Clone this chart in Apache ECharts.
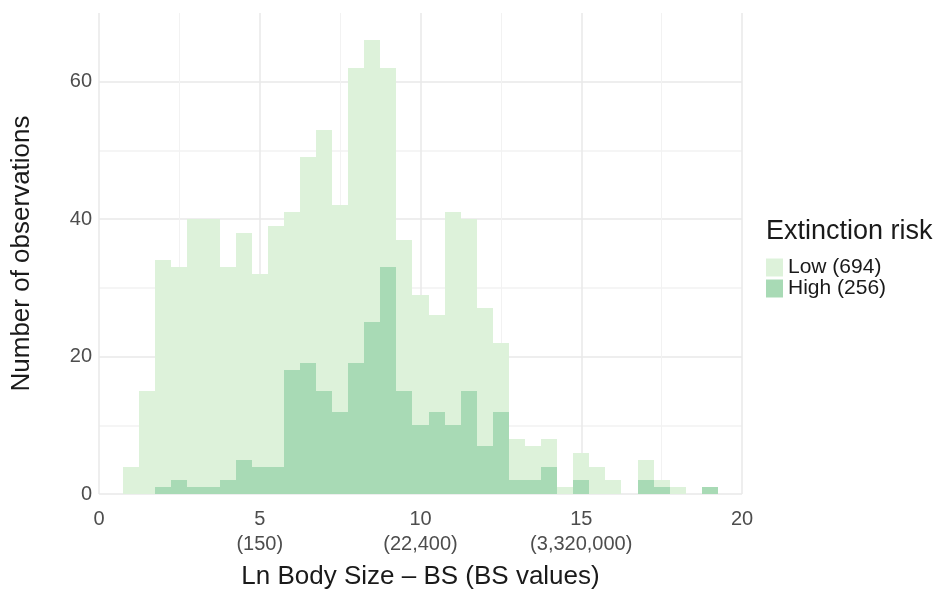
<!DOCTYPE html>
<html>
<head>
<meta charset="utf-8">
<title>Body size histogram by extinction risk</title>
<script src="https://cdn.jsdelivr.net/npm/echarts@6/dist/echarts.min.js"></script>
<style>
  html, body { margin: 0; padding: 0; background: #ffffff; }
  #chart { width: 942px; height: 602px; }
</style>
</head>
<body>
<div id="chart"></div>
<script>
// Histogram bins (ln body size), width 0.5, identified by their centres
const binWidth = 0.5;
const binCenters = [1.0, 1.5, 2.0, 2.5, 3.0, 3.5, 4.0, 4.5, 5.0, 5.5, 6.0, 6.5, 7.0, 7.5,
  8.0, 8.5, 9.0, 9.5, 10.0, 10.5, 11.0, 11.5, 12.0, 12.5, 13.0, 13.5, 14.0, 14.5,
  15.0, 15.5, 16.0, 16.5, 17.0, 17.5, 18.0, 18.5, 19.0];

// Counts per bin for each extinction-risk class (stacked: High below, Low on top)
const lowCounts = [4, 15, 33, 31, 39, 39, 31, 33, 28, 35, 23, 30, 38, 30,
  43, 41, 29, 22, 19, 14, 31, 25, 20, 10, 6, 5, 4, 1,
  4, 4, 2, 0, 3, 1, 1, 0, 0];
const highCounts = [0, 0, 1, 2, 1, 1, 2, 5, 4, 4, 18, 19, 15, 12,
  19, 25, 33, 15, 10, 12, 10, 15, 7, 12, 2, 2, 4, 0,
  2, 0, 0, 0, 2, 1, 0, 0, 1];

const seriesNames = ['Low (694)', 'High (256)'];
const legendTitle = 'Extinction risk';

// Axis ticks: ln body size with the matching raw body size below
const xTicks = [0, 5, 10, 15, 20];
const xTickLabels = ['0', '5\n(150)', '10\n(22,400)', '15\n(3,320,000)', '20'];
const yTicks = [0, 20, 40, 60];

const lowColor = '#ddf2da';
const highColor = '#a8dab5';
const gridMajor = '#e9e9e9';
const gridMinor = '#f2f2f2';
const fontFamily = '"Liberation Sans", Arial, Helvetica, sans-serif';

const highData = binCenters.map((c, i) => [c, highCounts[i]]);
const lowData = binCenters.map((c, i) => [c, lowCounts[i], highCounts[i]]);

// Draws one histogram segment per bin: from base up to base + count
function makeRenderer(color) {
  return function (params, api) {
    const c = api.value(0);
    const count = api.value(1);
    const base = api.value(2) || 0;
    if (!count) return null;
    const p0 = api.coord([c - binWidth / 2, base]);
    const p1 = api.coord([c + binWidth / 2, base + count]);
    const x0 = Math.round(p0[0]);
    const x1 = Math.round(p1[0]);
    const yb = Math.round(p0[1]);
    const yt = Math.round(p1[1]);
    return {
      type: 'rect',
      shape: { x: x0, y: yt, width: x1 - x0, height: yb - yt },
      style: { fill: color }
    };
  };
}

const chart = echarts.init(document.getElementById('chart'), null, { renderer: 'canvas' });

chart.setOption({
  animation: false,
  backgroundColor: '#ffffff',
  textStyle: { fontFamily: fontFamily },
  grid: { left: 99, right: 200, top: 13, bottom: 108, containLabel: false },
  title: {
    text: legendTitle,
    left: 766,
    top: 218,
    padding: 0,
    textStyle: { fontFamily: fontFamily, fontSize: 27, fontWeight: 'normal', color: '#1a1a1a' }
  },
  legend: {
    orient: 'vertical',
    left: 766,
    top: 257,
    padding: 0,
    itemGap: 0,
    itemWidth: 17,
    itemHeight: 18,
    icon: 'rect',
    selectedMode: false,
    textStyle: { fontFamily: fontFamily, fontSize: 21, color: '#1a1a1a', lineHeight: 18 },
    data: [
      { name: seriesNames[0], itemStyle: { color: lowColor } },
      { name: seriesNames[1], itemStyle: { color: highColor } }
    ]
  },
  xAxis: {
    type: 'value',
    min: xTicks[0],
    max: xTicks[xTicks.length - 1],
    interval: xTicks[1] - xTicks[0],
    name: 'Ln Body Size \u2013 BS (BS values)',
    nameLocation: 'middle',
    nameGap: 70,
    nameTextStyle: { fontFamily: fontFamily, fontSize: 26, color: '#1a1a1a' },
    axisLine: { show: false },
    axisTick: { show: false },
    axisLabel: {
      margin: 13,
      fontSize: 20,
      lineHeight: 25,
      color: '#4d4d4d',
      fontFamily: fontFamily,
      formatter: function (v) {
        const i = xTicks.indexOf(v);
        return i >= 0 ? xTickLabels[i] : '';
      }
    },
    splitLine: { show: true, lineStyle: { color: gridMajor, width: 1.5 } },
    minorTick: { show: false, splitNumber: 2 },
    minorSplitLine: { show: true, lineStyle: { color: gridMinor, width: 1 } }
  },
  yAxis: {
    type: 'value',
    min: 0,
    max: 70,
    interval: 10,
    name: 'Number of observations',
    nameLocation: 'middle',
    nameGap: 64,
    nameRotate: 90,
    nameTextStyle: { fontFamily: fontFamily, fontSize: 26, color: '#1a1a1a' },
    axisLine: { show: false },
    axisTick: { show: false },
    axisLabel: {
      margin: 7,
      fontSize: 20,
      color: '#4d4d4d',
      fontFamily: fontFamily,
      formatter: function (v) { return yTicks.indexOf(v) >= 0 ? String(v) : ''; }
    },
    splitLine: {
      show: true,
      showMaxLine: false,
      lineStyle: { color: [gridMajor, gridMinor], width: 1.5 }
    }
  },
  series: [
    {
      name: seriesNames[1],
      type: 'custom',
      renderItem: makeRenderer(highColor),
      itemStyle: { color: highColor },
      encode: { x: 0, y: 1 },
      data: highData,
      z: 3
    },
    {
      name: seriesNames[0],
      type: 'custom',
      renderItem: makeRenderer(lowColor),
      itemStyle: { color: lowColor },
      encode: { x: 0, y: [1, 2] },
      data: lowData,
      z: 2
    }
  ]
});
</script>
</body>
</html>
